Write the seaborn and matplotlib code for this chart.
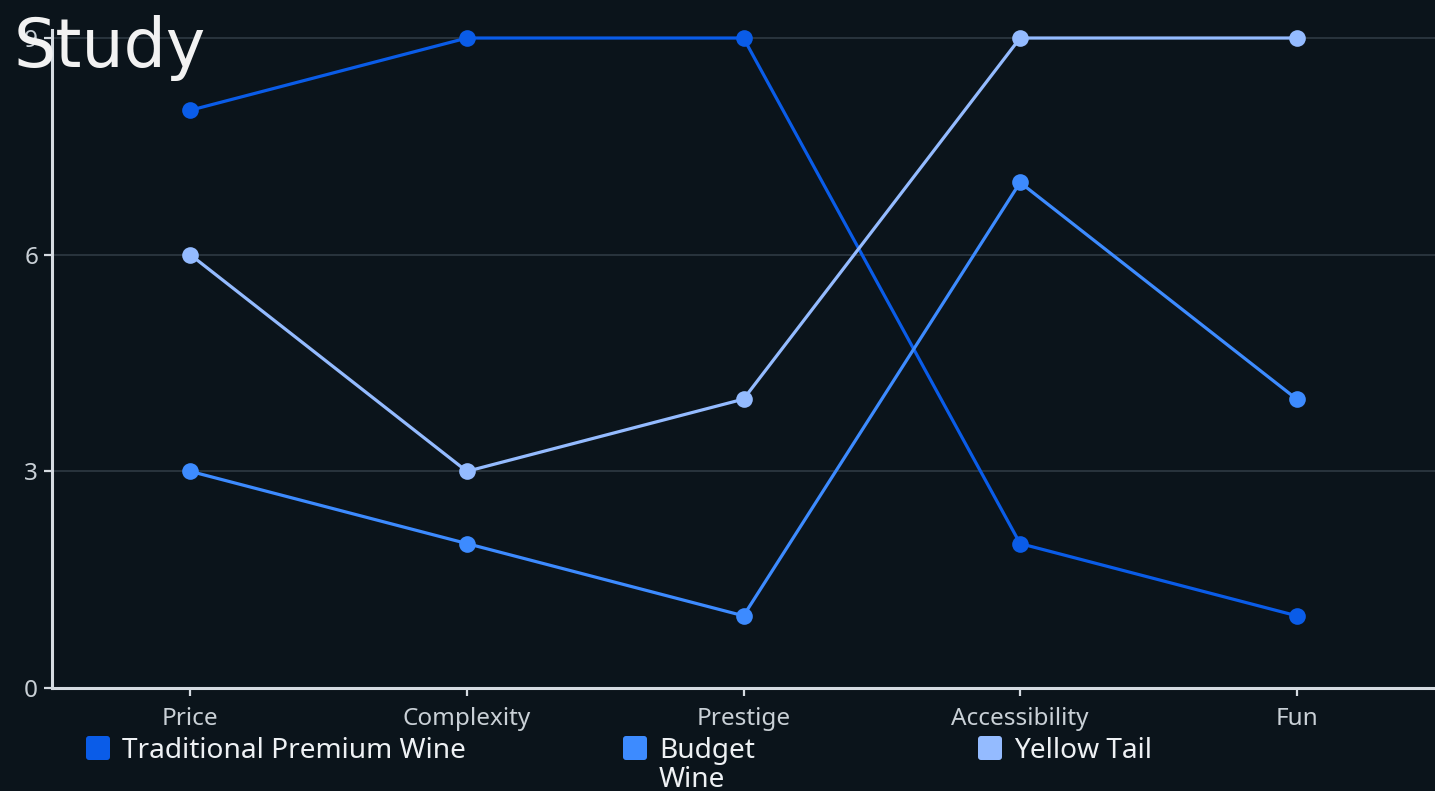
import pandas as pd
import matplotlib.pyplot as plt
import seaborn as sns
from matplotlib.patches import FancyBboxPatch

# Dados
categories = ["Price", "Complexity", "Prestige", "Accessibility", "Fun"]
traditional_premium = [8, 9, 9, 2, 1]
budget_wine = [3, 2, 1, 7, 4]
yellow_tail = [6, 3, 4, 9, 9]
series_names = ["Traditional Premium Wine", "Budget Wine", "Yellow Tail"]
legend_labels = ["Traditional Premium Wine", "Budget\nWine", "Yellow Tail"]
y_ticks = [0, 3, 6, 9]

colors = ["#0a5ce8", "#3d8bff", "#94bbff"]
bg = "#0b141b"
W, H = 1435, 791

df = pd.DataFrame({
    "category": categories * 3,
    "value": traditional_premium + budget_wine + yellow_tail,
    "series": [series_names[0]] * 5 + [series_names[1]] * 5 + [series_names[2]] * 5,
})

sns.set_style("dark")
plt.rcParams["font.family"] = ["Noto Sans", "DejaVu Sans"]

fig = plt.figure(figsize=(W / 100, H / 100), dpi=100, facecolor=bg)
ax = fig.add_axes([52 / W, 103 / H, 1 - 52 / W, (688 - 30) / H])
ax.set_facecolor(bg)

sns.lineplot(data=df, x="category", y="value", hue="series", palette=colors,
             marker="o", markersize=12, markeredgewidth=0, linewidth=2.3,
             sort=False, legend=False, ax=ax, clip_on=False, zorder=3)

ax.set_xlim(-0.5, 4.5)
ax.set_ylim(0, (688 - 30) / 72.22)
ax.set_yticks(y_ticks)
ax.set_xlabel("")
ax.set_ylabel("")

# Grade e eixos
ax.grid(axis="y", color="#2e3a43", linewidth=1.2)
ax.grid(axis="x", visible=False)
for side in ["top", "right"]:
    ax.spines[side].set_visible(False)
for side in ["left", "bottom"]:
    ax.spines[side].set_visible(True)
    ax.spines[side].set_color("#d5dbe1")
    ax.spines[side].set_linewidth(2.2)
ax.tick_params(axis="both", colors="#d5dbe1", length=6, width=1.6, direction="out")
ax.tick_params(axis="x", labelsize=17.5, labelcolor="#c9d0d6", pad=8)
ax.tick_params(axis="y", labelsize=17.5, labelcolor="#c9d0d6", pad=4)
ax.tick_params(axis="both", which="both", bottom=True, left=True)

# Título
fig.text(14 / W, 1 - 15 / H, "Study", fontsize=48, color="#f2f2f2",
         family="DejaVu Sans", ha="left", va="top")

# Legenda (quadrados arredondados + texto)
legend_x = [86, 623, 978]
for label, color, lx in zip(legend_labels, colors, legend_x):
    box = FancyBboxPatch((lx, H - 760), 24, 24,
                         boxstyle="round,pad=0,rounding_size=3",
                         facecolor=color, edgecolor="none", transform=None)
    fig.add_artist(box)
    fig.text((lx + 36) / W, 1 - 737 / H, label, fontsize=20.2, color="#eef1f4",
             ha="left", va="top", linespacing=1.05)

fig.savefig("out.png", dpi=100, facecolor=bg)
